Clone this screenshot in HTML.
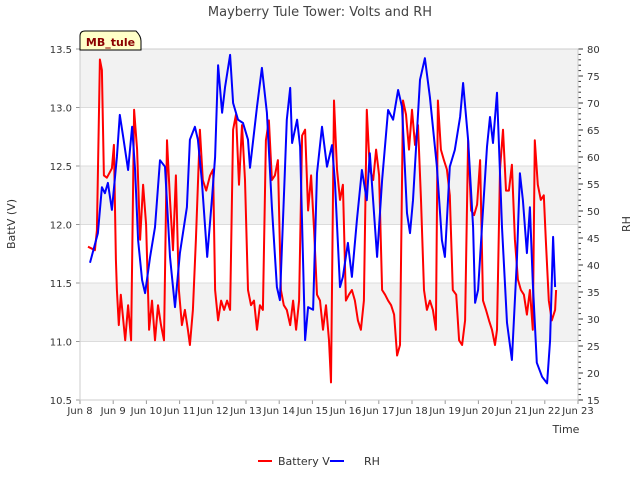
<!DOCTYPE html>
<html><head><meta charset="utf-8"><style>
body{margin:0;background:#fff;font-family:"Liberation Sans","DejaVu Sans",sans-serif}
</style></head><body>
<svg id="c" width="640" height="480" xmlns="http://www.w3.org/2000/svg" font-family="DejaVu Sans, Liberation Sans, sans-serif">
<text x="320" y="16" text-anchor="middle" font-size="13" fill="#444">Mayberry Tule Tower: Volts and RH</text>
<g id="bands"></g>
<g id="grid"></g>
<g id="series"></g>
<g id="axes"></g>
<text x="15" y="224" font-size="11" fill="#333" text-anchor="middle" transform="rotate(-90 15 224)">BattV (V)</text>
<text x="630" y="224" font-size="11" fill="#333" text-anchor="middle" transform="rotate(-90 630 224)">RH</text>
<text x="566" y="433" font-size="11" fill="#333" text-anchor="middle">Time</text>
<g>
<path d="M80,50 L80,36 Q80,31 85,31 L136,31 Q141,36 141,41 L141,50 Z" fill="#ffffc8" stroke="#000" stroke-width="1"/>
<text x="110.5" y="46" font-size="11" font-weight="bold" fill="#8b0000" text-anchor="middle">MB_tule</text>
</g>
<g>
<line x1="258" y1="461" x2="272" y2="461" stroke="#f00" stroke-width="2"/>
<text x="278" y="465" font-size="11" fill="#333">Battery V</text>
<line x1="330" y1="461" x2="344" y2="461" stroke="#00f" stroke-width="2"/>
<text x="364" y="465" font-size="11" fill="#333">RH</text>
</g>
</svg>
<script>
const xTickLabels=["Jun 8","Jun 9","Jun 10","Jun 11","Jun 12","Jun 13","Jun 14","Jun 15","Jun 16","Jun 17","Jun 18","Jun 19","Jun 20","Jun 21","Jun 22","Jun 23"];
const leftTicks=[10.5,11.0,11.5,12.0,12.5,13.0,13.5];
const rightTicks=[15,20,25,30,35,40,45,50,55,60,65,70,75,80];
const batteryV=[[0.24,11.81],[0.45,11.78],[0.51,11.95],[0.60,13.41],[0.66,13.32],[0.72,12.42],[0.81,12.40],[0.96,12.48],[1.02,12.68],[1.08,11.70],[1.11,11.44],[1.17,11.14],[1.23,11.40],[1.36,11.01],[1.45,11.31],[1.54,11.01],[1.63,12.98],[1.72,12.64],[1.81,11.87],[1.90,12.34],[1.99,12.00],[2.08,11.10],[2.17,11.35],[2.26,11.01],[2.35,11.31],[2.44,11.14],[2.53,11.01],[2.62,12.72],[2.71,12.21],[2.80,11.78],[2.89,12.42],[2.98,11.44],[3.07,11.14],[3.16,11.27],[3.25,11.10],[3.31,10.97],[3.40,11.27],[3.49,11.87],[3.61,12.81],[3.70,12.38],[3.80,12.29],[3.92,12.42],[4.01,12.47],[4.07,11.44],[4.16,11.18],[4.25,11.35],[4.34,11.27],[4.43,11.35],[4.52,11.27],[4.61,12.81],[4.70,12.94],[4.79,12.34],[4.88,12.85],[4.97,12.38],[5.06,11.44],[5.15,11.31],[5.24,11.35],[5.33,11.10],[5.42,11.31],[5.51,11.27],[5.60,12.72],[5.69,12.89],[5.78,12.38],[5.87,12.42],[5.96,12.55],[6.05,11.44],[6.14,11.31],[6.23,11.27],[6.33,11.14],[6.42,11.35],[6.51,11.10],[6.60,11.35],[6.69,12.76],[6.78,12.81],[6.87,12.12],[6.96,12.42],[7.05,11.95],[7.14,11.40],[7.23,11.35],[7.32,11.10],[7.41,11.31],[7.50,11.01],[7.56,10.65],[7.65,13.06],[7.74,12.47],[7.83,12.21],[7.92,12.34],[8.01,11.35],[8.10,11.40],[8.19,11.44],[8.28,11.35],[8.37,11.18],[8.46,11.10],[8.55,11.35],[8.64,12.98],[8.73,12.47],[8.83,12.38],[8.92,12.64],[9.01,12.42],[9.10,11.44],[9.19,11.40],[9.28,11.35],[9.37,11.31],[9.46,11.23],[9.55,10.88],[9.64,10.97],[9.73,13.06],[9.82,12.94],[9.91,12.64],[10.00,12.98],[10.09,12.68],[10.18,12.85],[10.27,12.21],[10.36,11.44],[10.45,11.27],[10.54,11.35],[10.63,11.27],[10.72,11.10],[10.78,13.06],[10.87,12.64],[10.96,12.55],[11.05,12.47],[11.14,12.25],[11.23,11.44],[11.33,11.40],[11.42,11.01],[11.51,10.97],[11.60,11.18],[11.69,12.72],[11.78,12.12],[11.87,12.08],[11.96,12.17],[12.05,12.55],[12.14,11.35],[12.23,11.27],[12.32,11.18],[12.41,11.10],[12.50,10.97],[12.56,11.10],[12.65,12.47],[12.74,12.81],[12.83,12.29],[12.92,12.29],[13.01,12.51],[13.10,11.87],[13.19,11.53],[13.28,11.44],[13.37,11.40],[13.46,11.23],[13.55,11.44],[13.64,11.10],[13.70,12.72],[13.79,12.34],[13.88,12.21],[13.97,12.25],[14.03,11.87],[14.12,11.35],[14.21,11.18],[14.31,11.27],[14.34,11.44]];
const relHumidity=[[0.30,40.4],[0.54,45.9],[0.66,54.4],[0.75,53.3],[0.84,55.2],[0.96,50.2],[1.11,60.0],[1.20,67.8],[1.30,63.7],[1.45,57.6],[1.57,65.6],[1.66,57.6],[1.75,44.6],[1.87,37.2],[1.96,34.8],[2.11,41.5],[2.26,47.0],[2.41,59.4],[2.56,58.2],[2.71,41.5],[2.86,32.2],[3.01,42.2],[3.22,50.7],[3.31,63.2],[3.46,65.6],[3.55,63.2],[3.67,55.7],[3.83,41.5],[3.98,52.6],[4.07,60.0],[4.16,77.0],[4.28,68.2],[4.37,73.0],[4.52,78.9],[4.61,70.0],[4.76,66.9],[4.91,66.3],[5.06,63.2],[5.12,58.0],[5.33,69.3],[5.48,76.5],[5.63,68.2],[5.78,50.7],[5.93,35.9],[6.02,33.5],[6.17,57.0],[6.23,66.9],[6.33,72.8],[6.39,62.6],[6.54,66.9],[6.63,61.9],[6.78,26.1],[6.87,32.2],[7.02,31.7],[7.14,57.0],[7.29,65.6],[7.44,58.2],[7.59,62.2],[7.68,55.2],[7.83,35.9],[7.92,37.8],[8.07,44.1],[8.19,37.8],[8.34,48.3],[8.49,57.6],[8.64,52.0],[8.73,60.7],[8.95,41.5],[9.10,55.7],[9.28,68.7],[9.43,66.9],[9.58,72.4],[9.70,69.3],[9.85,49.6],[9.94,45.9],[10.03,52.0],[10.24,74.3],[10.39,78.3],[10.54,71.1],[10.75,58.2],[10.90,44.6],[10.99,41.5],[11.14,58.2],[11.29,61.3],[11.45,67.4],[11.54,73.7],[11.69,63.2],[11.84,47.0],[11.90,33.0],[11.99,35.4],[12.14,50.2],[12.26,61.9],[12.35,67.4],[12.44,62.6],[12.56,71.9],[12.71,47.0],[12.86,29.3],[13.01,22.4],[13.16,40.9],[13.25,57.0],[13.34,52.0],[13.46,42.2],[13.55,50.7],[13.64,36.7],[13.76,21.9],[13.92,19.3],[14.07,18.1],[14.16,26.1],[14.25,45.2],[14.31,35.9]];

const X0=80,X1=578,Y0=49,Y1=400;
const xs=d=>X0+d*(X1-X0)/15;
const yL=v=>Y1-(v-10.5)*(Y1-Y0)/3;
const yR=v=>Y1-(v-15)*(Y1-Y0)/65;
const NS="http://www.w3.org/2000/svg";
function mk(t,a,p){const e=document.createElementNS(NS,t);for(const k in a)e.setAttribute(k,a[k]);p.appendChild(e);return e;}
const bands=document.getElementById('bands'),grid=document.getElementById('grid'),ser=document.getElementById('series'),ax=document.getElementById('axes');
mk('rect',{x:X0,y:Y0,width:X1-X0,height:Y1-Y0,fill:'#fff'},bands);
[[13.0,13.5],[12.0,12.5],[11.0,11.5]].forEach(b=>{
  const r=mk('rect',{x:X0,y:yL(b[1]),width:X1-X0,height:yL(b[0])-yL(b[1]),fill:'#f2f2f2'},bands);
  
  
});
leftTicks.forEach(v=>{
  const l=mk('line',{x1:X0,x2:X1,y1:yL(v),y2:yL(v),stroke:'#dcdcdc','stroke-width':1},grid);
  
  
  const t=mk('text',{x:X0-8,y:yL(v)+4,'text-anchor':'end','font-size':10,fill:'#333'},ax);
  t.textContent=v.toFixed(1);
  
  
  mk('line',{x1:X0-4,x2:X0,y1:yL(v),y2:yL(v),stroke:'#999'},ax);
});
rightTicks.forEach(v=>{
  const t=mk('text',{x:X1+9,y:yR(v)+4,'font-size':10,fill:'#333'},ax);
  t.textContent=v;
  
  
  mk('line',{x1:X1,x2:X1+5,y1:yR(v),y2:yR(v),stroke:'#333'},ax);
});
for(let v=15;v<=80;v++){mk('line',{x1:X1,x2:X1+3,y1:yR(v),y2:yR(v),stroke:'#333'},ax);}
xTickLabels.forEach((s,i)=>{
  const t=mk('text',{x:xs(i),y:414,'text-anchor':'middle','font-size':10,fill:'#333'},ax);
  t.textContent=s;
  
  
  mk('line',{x1:xs(i),x2:xs(i),y1:Y1,y2:Y1+4,stroke:'#999'},ax);
});
mk('rect',{x:X0,y:Y0,width:X1-X0,height:Y1-Y0,fill:'none',stroke:'#ccc'},ax);
const pb=mk('polyline',{points:batteryV.map(p=>xs(p[0]).toFixed(1)+','+yL(p[1]).toFixed(1)).join(' '),fill:'none',stroke:'#f00','stroke-width':2,'stroke-linejoin':'round'},ser);


const pr=mk('polyline',{points:relHumidity.map(p=>xs(p[0]).toFixed(1)+','+yR(p[1]).toFixed(1)).join(' '),fill:'none',stroke:'#00f','stroke-width':2,'stroke-linejoin':'round'},ser);


</script>
</body></html>
